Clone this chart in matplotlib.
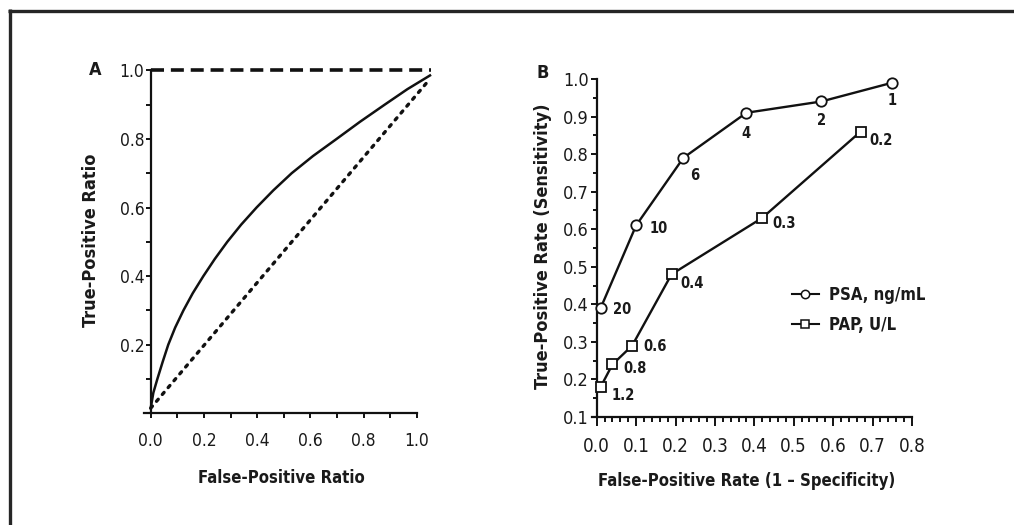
import matplotlib
matplotlib.use("Agg")
import matplotlib.pyplot as plt
from matplotlib.lines import Line2D
from matplotlib.ticker import MultipleLocator, FixedLocator

plt.rcParams['font.family'] = ['DejaVu Sans']
plt.rcParams['font.stretch'] = 'condensed'

# ---------------- Data ----------------
# Panel A: theoretical ROC curve
roc_x = [0.0, 0.010, 0.025, 0.045, 0.066, 0.092, 0.123, 0.158, 0.198, 0.241, 0.288,
         0.340, 0.398, 0.461, 0.530, 0.610, 0.699, 0.787, 0.880, 0.965, 1.050]
roc_y = [0.015, 0.060, 0.100, 0.150, 0.200, 0.250, 0.300, 0.350, 0.400, 0.450, 0.500,
         0.550, 0.600, 0.650, 0.700, 0.750, 0.800, 0.850, 0.900, 0.945, 0.985]
chance_x = [0.0, 1.05]
chance_y = [0.015, 0.975]
perfect_x = [0.0, 1.055]
perfect_y = [1.0, 1.0]

# Panel B: PSA and PAP ROC points
psa_fpr = [0.01, 0.10, 0.22, 0.38, 0.57, 0.75]
psa_tpr = [0.39, 0.61, 0.79, 0.91, 0.94, 0.99]
psa_cut = ["20", "10", "6", "4", "2", "1"]

pap_fpr = [0.01, 0.04, 0.09, 0.19, 0.42, 0.67]
pap_tpr = [0.18, 0.24, 0.29, 0.48, 0.63, 0.86]
pap_cut = ["1.2", "0.8", "0.6", "0.4", "0.3", "0.2"]

a_xticks = [0.0, 0.2, 0.4, 0.6, 0.8, 1.0]
a_yticks = [0.2, 0.4, 0.6, 0.8, 1.0]
b_xticks = [0.0, 0.1, 0.2, 0.3, 0.4, 0.5, 0.6, 0.7, 0.8]
b_yticks = [0.1, 0.2, 0.3, 0.4, 0.5, 0.6, 0.7, 0.8, 0.9, 1.0]

# label offsets (pixels) and alignment for panel B annotations
psa_off = [(12, -1, 'left'), (13, -3, 'left'), (7, -18, 'left'),
           (0, -21, 'center'), (0, -19, 'center'), (0, -18, 'center')]
pap_off = [(11, -9, 'left'), (11, -4, 'left'), (11, -1, 'left'),
           (9, -9, 'left'), (10, -6, 'left'), (9, -9, 'left')]

# ---------------- Figure ----------------
W, H = 1014, 525
fig = plt.figure(figsize=(W / 100, H / 100), dpi=100)
fig.patch.set_facecolor('white')

# outer frame (top and left border only visible)
frame_c = '#262626'
fig.add_artist(Line2D([8 / W, 1.0], [1 - 10.5 / H, 1 - 10.5 / H], transform=fig.transFigure,
                      color=frame_c, lw=2.4, solid_capstyle='butt'))
fig.add_artist(Line2D([9.8 / W, 9.8 / W], [0.0, 1 - 9 / H], transform=fig.transFigure,
                      color=frame_c, lw=2.4, solid_capstyle='butt'))

ink = '#111111'
txt = '#1a1a1a'


def px_axes(left, right, top, bottom):
    return fig.add_axes([left / W, 1 - bottom / H, (right - left) / W, (bottom - top) / H])


def style_axes(ax):
    for s in ('top', 'right'):
        ax.spines[s].set_visible(False)
    for s in ('left', 'bottom'):
        ax.spines[s].set_linewidth(1.6)
        ax.spines[s].set_color(ink)
    ax.tick_params(which='both', direction='out', color=ink, width=1.4)
    ax.tick_params(which='major', labelcolor=txt)
    ax.set_facecolor('none')


# ---------------- Panel A ----------------
axA = px_axes(150.7, 150.7 + 1.06 * 266, 413.3 - 1.02 * 343, 413.3)
axA.set_xlim(0, 1.06)
axA.set_ylim(0, 1.02)
style_axes(axA)
axA.spines['left'].set_bounds(0, 1.0)
axA.spines['bottom'].set_bounds(-0.025, 1.0)
axA.xaxis.set_major_locator(FixedLocator(a_xticks))
axA.xaxis.set_minor_locator(FixedLocator([0.1, 0.3, 0.5, 0.7, 0.9]))
axA.yaxis.set_major_locator(FixedLocator(a_yticks))
axA.yaxis.set_minor_locator(FixedLocator([0.1, 0.3, 0.5, 0.7, 0.9]))
axA.set_xticklabels([f"{v:.1f}" for v in a_xticks])
axA.set_yticklabels([f"{v:.1f}" for v in a_yticks])
axA.tick_params(axis='both', which='both', length=3.8)
axA.tick_params(axis='x', which='major', labelsize=12.5, pad=10)
axA.tick_params(axis='y', which='major', labelsize=12.5, pad=0.8)

axA.plot(perfect_x, perfect_y, color=ink, lw=2.6, ls=(0, (3.6, 1.9)), clip_on=False,
         dash_capstyle='butt')
axA.plot(chance_x, chance_y, color=ink, lw=2.4, ls=(0, (0.8, 1.9)), clip_on=False,
         dash_capstyle='round')
axA.plot(roc_x, roc_y, color=ink, lw=1.8, clip_on=False, solid_joinstyle='round')

axA.set_xlabel('False-Positive Ratio', fontsize=12, fontweight='bold', color=txt)
axA.set_ylabel('True-Positive Ratio', fontsize=13, fontweight='bold', color=txt)
axA.xaxis.set_label_coords((281 - 150.7) / (1.06 * 266), -(469 - 413.3) / (1.02 * 343))
axA.yaxis.set_label_coords(-(150.7 - 100) / (1.06 * 266), (413.3 - 240) / (1.02 * 343))
fig.text(95 / W, 1 - 70 / H, 'A', fontsize=13, fontweight='bold', ha='center', va='center',
         color=txt)

# ---------------- Panel B ----------------
axB = px_axes(596.7, 596.7 + 0.8 * 394, 417 - 0.9 * 375.6, 417)
axB.set_xlim(0, 0.8)
axB.set_ylim(0.1, 1.0)
style_axes(axB)
axB.spines['bottom'].set_bounds(-0.012, 0.8)
axB.xaxis.set_major_locator(FixedLocator(b_xticks))
axB.xaxis.set_minor_locator(MultipleLocator(0.02))
axB.yaxis.set_major_locator(FixedLocator(b_yticks))
axB.yaxis.set_minor_locator(MultipleLocator(0.05))
axB.set_xticklabels([f"{v:.1f}" for v in b_xticks])
axB.set_yticklabels([f"{v:.1f}" for v in b_yticks])
axB.tick_params(axis='x', which='major', length=6.5, labelsize=13.5, pad=8)
axB.tick_params(axis='x', which='minor', length=3.6)
axB.tick_params(axis='y', which='major', length=4.2, labelsize=13, pad=1.5)
axB.tick_params(axis='y', which='minor', length=3.2)

axB.plot(psa_fpr, psa_tpr, color=ink, lw=1.7, marker='o', ms=7.5, mfc='white', mec=ink,
         mew=1.3, clip_on=False, zorder=3)
axB.plot(pap_fpr, pap_tpr, color=ink, lw=1.7, marker='s', ms=7.0, mfc='white', mec=ink,
         mew=1.3, clip_on=False, zorder=3)

for x, y, t, (dx, dy, ha) in zip(psa_fpr, psa_tpr, psa_cut, psa_off):
    axB.annotate(t, (x, y), xytext=(dx, dy), textcoords='offset pixels', ha=ha, va='center',
                 fontsize=10.5, fontweight='bold', color=txt, annotation_clip=False)
for x, y, t, (dx, dy, ha) in zip(pap_fpr, pap_tpr, pap_cut, pap_off):
    axB.annotate(t, (x, y), xytext=(dx, dy), textcoords='offset pixels', ha=ha, va='center',
                 fontsize=10.5, fontweight='bold', color=txt, annotation_clip=False)

axB.set_xlabel('False-Positive Rate (1 \u2013 Specificity)', fontsize=12, fontweight='bold',
               color=txt)
axB.set_ylabel('True-Positive Rate (Sensitivity)', fontsize=13, fontweight='bold', color=txt)
axB.xaxis.set_label_coords((747 - 596.7) / (0.8 * 394), -(472 - 417) / (0.9 * 375.6))
axB.yaxis.set_label_coords(-(596.7 - 552) / (0.8 * 394), (417 - 246) / (0.9 * 375.6))
fig.text(543 / W, 1 - 73 / H, 'B', fontsize=13, fontweight='bold', ha='center', va='center',
         color=txt)

handles = [Line2D([], [], color=ink, lw=1.5, marker='o', ms=6, mfc='white', mec=ink, mew=1.1),
           Line2D([], [], color=ink, lw=1.5, marker='s', ms=5.5, mfc='white', mec=ink, mew=1.1)]
leg = axB.legend(handles, ['PSA, ng/mL', 'PAP, U/L'], loc='upper left',
                 bbox_to_anchor=((792 - 596.7) / (0.8 * 394), (417 - 286) / (0.9 * 375.6)),
                 frameon=False, handlelength=1.6, handletextpad=0.6, labelspacing=0.7,
                 borderaxespad=0, borderpad=0,
                 prop={'size': 12, 'weight': 'bold', 'stretch': 'condensed'})
for t in leg.get_texts():
    t.set_color(txt)

fig.savefig('out.png', dpi=100, facecolor='white')
